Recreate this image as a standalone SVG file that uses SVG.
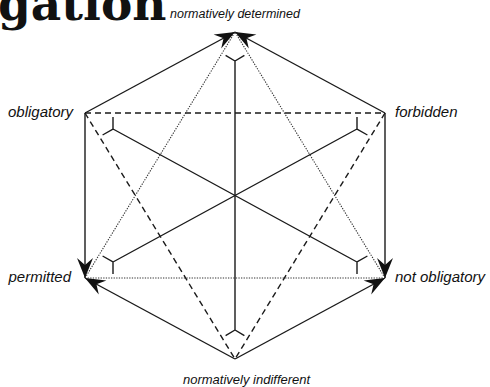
<svg xmlns="http://www.w3.org/2000/svg" width="490" height="387" viewBox="0 0 490 387">
<style>
.lbl{font-family:"Liberation Sans",Arial,sans-serif;font-style:italic;font-size:15px;fill:#111}
.sm{font-size:12.5px}
.title{font-family:"DejaVu Serif","Liberation Serif",serif;font-weight:bold;font-size:47px;fill:#111}
.solid{stroke:#1a1a1a;stroke-width:1.4;fill:none}
.dash{stroke:#1a1a1a;stroke-width:1.4;fill:none;stroke-dasharray:6,4}
.dot{stroke:#333;stroke-width:1.1;fill:none;stroke-dasharray:1.3,1.3}
.arr{marker-end:url(#ah)}
</style>
<defs>
<marker id="ah" markerUnits="userSpaceOnUse" viewBox="-21 -10 22 20" refX="0" refY="0" markerWidth="22" markerHeight="20" orient="auto">
<path d="M0,0 L-20,-8 L-13,0 L-20,8 Z" fill="#111"/>
</marker>
</defs>
<rect width="490" height="387" fill="#fff"/>
<text class="title" x="-2" y="20">gation</text>
<g id="connectors">
<line class="solid arr" x1="85" y1="113" x2="235" y2="32"/>
<line class="solid arr" x1="385" y1="113" x2="235" y2="32"/>
<line class="solid arr" x1="85" y1="113" x2="85" y2="278"/>
<line class="solid arr" x1="385" y1="113" x2="385" y2="278"/>
<line class="solid arr" x1="235" y1="359" x2="85" y2="278"/>
<line class="solid arr" x1="235" y1="359" x2="385" y2="278"/>
<line class="dash" x1="85" y1="113" x2="385" y2="113"/>
<line class="dash" x1="85" y1="113" x2="235" y2="359"/>
<line class="dash" x1="385" y1="113" x2="235" y2="359"/>
<line class="dot" x1="85" y1="278" x2="385" y2="278"/>
<line class="dot" x1="85" y1="278" x2="235" y2="32"/>
<line class="dot" x1="385" y1="278" x2="235" y2="32"/>
<path class="solid" d="M225.6,55.3 L235,61 L244.4,55.3 M235,61 L235,330 M225.6,335.7 L235,330 L244.4,335.7"/>
<path class="solid" d="M113,117 L113,129 L102.6,135 M113,129 L357,262 M357,274 L357,262 L367.4,256"/>
<path class="solid" d="M357,117 L357,129 L367.4,135 M357,129 L113,262 M113,274 L113,262 L102.6,256"/>
</g>
<g id="node-determined"><text class="lbl sm" x="235" y="18" text-anchor="middle">normatively determined</text></g>
<g id="node-obligatory"><text class="lbl" x="73" y="117" text-anchor="end">obligatory</text></g>
<g id="node-forbidden"><text class="lbl" x="395" y="117">forbidden</text></g>
<g id="node-permitted"><text class="lbl" x="71" y="282" text-anchor="end">permitted</text></g>
<g id="node-notobligatory"><text class="lbl" x="395" y="282">not obligatory</text></g>
<g id="node-indifferent"><text class="lbl" x="183" y="384" style="font-size:13px">normatively indifferent</text></g>
</svg>
